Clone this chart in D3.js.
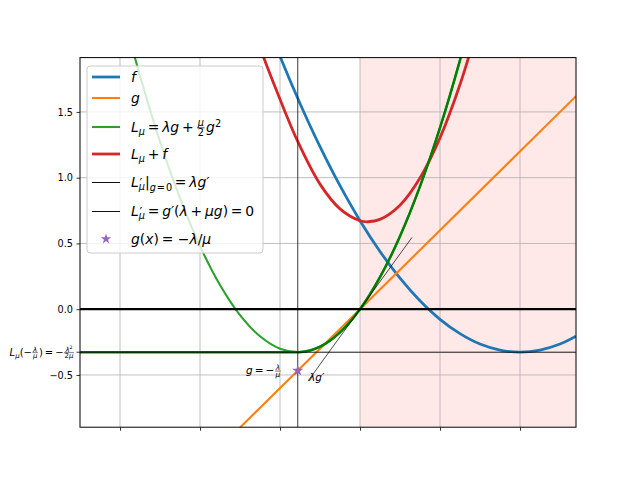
<!DOCTYPE html>
<html><head><meta charset="utf-8">
<script src="https://cdn.jsdelivr.net/npm/d3@7"></script>
<style>body{margin:0;background:#fff}svg{display:block}text{font-family:"DejaVu Sans",sans-serif;fill:#000}</style>
</head><body>
<script>
// ---- data ----
const xTicks = [-3, -2, -1, 0, 1, 2];
const yTicks = [-0.5, 0.0, 0.5, 1.0, 1.5];
const Lmin = -0.327;          // L_mu(-lambda/mu) = -lambda^2/(2 mu)
const xStar = -0.778;         // where g = -lambda/mu
const gStar = -0.467;         // g value there
const fPts = [[-1.25,2.314],[-1,1.923],[-0.75,1.564],[-0.5,1.236],[-0.25,0.939],[0,0.673],[0.25,0.439],[0.5,0.236],[0.75,0.064],[1,-0.077],[1.25,-0.186],[1.5,-0.265],[1.75,-0.311],[2,-0.327],[2.25,-0.311],[2.5,-0.265],[2.7,-0.205]];
const gPts = [[-1.6,-0.96],[2.7,1.62]];
const LPts = [[-3,2.34],[-2.75,1.774],[-2.5,1.275],[-2.25,0.844],[-2,0.48],[-1.75,0.184],[-1.5,-0.045],[-1.25,-0.206],[-1,-0.30],[-0.75,-0.326],[-0.5,-0.285],[-0.25,-0.176],[0,0],[0.25,0.244],[0.5,0.555],[0.75,0.934],[1,1.38],[1.25,1.894],[1.5,2.475]];
const LpwPts = [[-3.5,-0.327],[-0.778,-0.327],[-0.5,-0.285],[-0.25,-0.176],[0,0],[0.25,0.244],[0.5,0.555],[0.75,0.934],[1,1.38],[1.25,1.894],[1.5,2.475]];
const LfPts = [[-1.5,2.408],[-1.25,1.987],[-1,1.596],[-0.778,1.275],[-0.5,0.951],[-0.25,0.763],[0,0.673],[0.1,0.665],[0.25,0.683],[0.5,0.791],[0.75,0.998],[1,1.303],[1.25,1.708],[1.5,2.21]];
const tangentPts = [[-0.65,-0.546],[0.65,0.546]];
const shadeX = [0, 2.7];

// ---- layout ----
const W = 640, H = 480;
const L = 80, R = 576, T = 57.6, B = 427.2;
const x = d3.scaleLinear().domain([-3.5, 2.7]).range([L, R]);
const y = d3.scaleLinear().domain([-0.897, 1.913]).range([B, T]);
const C = {blue:"#1f77b4", orange:"#ff7f0e", green:"#2ca02c", red:"#d62728", dgreen:"#008000", purple:"#9467bd"};

const svg = d3.select("body").append("svg").attr("width", W).attr("height", H);
svg.append("rect").attr("width", W).attr("height", H).attr("fill", "#fff");
svg.append("clipPath").attr("id","clip").append("rect").attr("x",L).attr("y",T).attr("width",R-L).attr("height",B-T);
const plot = svg.append("g").attr("clip-path","url(#clip)");

// shaded region
plot.append("rect").attr("x", x(shadeX[0])).attr("y", T).attr("width", x(shadeX[1]) - x(shadeX[0])).attr("height", B - T)
  .attr("fill", "rgba(255,0,0,0.09)");

// grid
plot.selectAll(".gx").data(xTicks).enter().append("line")
  .attr("x1", d=>x(d)).attr("x2", d=>x(d)).attr("y1", T).attr("y2", B).attr("stroke","#b0b0b0").attr("stroke-width",0.8);
plot.selectAll(".gy").data(yTicks.concat([Lmin])).enter().append("line")
  .attr("y1", d=>y(d)).attr("y2", d=>y(d)).attr("x1", L).attr("x2", R).attr("stroke","#b0b0b0").attr("stroke-width",0.8);

const smooth = d3.line().x(d=>x(d[0])).y(d=>y(d[1])).curve(d3.curveCatmullRom.alpha(0.5));
const mono = d3.line().x(d=>x(d[0])).y(d=>y(d[1])).curve(d3.curveMonotoneX);
const straight = d3.line().x(d=>x(d[0])).y(d=>y(d[1]));
function path(pts, color, w, gen) {
  plot.append("path").attr("d", gen(pts)).attr("fill","none").attr("stroke", color).attr("stroke-width", w).attr("stroke-linecap","butt");
}
path(fPts, C.blue, 2.78, smooth);
path(gPts, C.orange, 2.08, straight);
path(LPts, C.green, 2.08, smooth);
path(LfPts, C.red, 2.78, smooth);
path(LpwPts, C.dgreen, 2.5, mono);
path(tangentPts, "#000", 0.7, straight);
// vertical and horizontal reference lines
plot.append("line").attr("x1", x(xStar)).attr("x2", x(xStar)).attr("y1", T).attr("y2", B).attr("stroke","#222").attr("stroke-width",0.9);
plot.append("line").attr("x1", L).attr("x2", R).attr("y1", y(Lmin)).attr("y2", y(Lmin)).attr("stroke","#000").attr("stroke-width",0.8);
plot.append("line").attr("x1", L).attr("x2", R).attr("y1", y(0)).attr("y2", y(0)).attr("stroke","#000").attr("stroke-width",2.2);
// star
const star = d3.symbol().type(d3.symbolStar).size(40);
const starLeg = d3.symbol().type(d3.symbolStar).size(34);
plot.append("path").attr("d", star()).attr("transform", `translate(${x(xStar)},${y(gStar)})`).attr("fill", C.purple);

// ---- rich text helper ----
function op(s){ return [{gap:0.2},{t:s},{gap:0.2}]; }
function layout(parent, x0, y0, items, size) {
  let cx = x0;
  for (let it of items) {
    if (it.gap) { cx += it.gap*size; continue; }
    if (it.frac) {
      const s = size*0.7;
      const gN = parent.append("g"); const wn = layout(gN, 0, 0, it.frac[0], s);
      const gD = parent.append("g"); const wd = layout(gD, 0, 0, it.frac[1], s);
      const w = Math.max(wn, wd) + size*0.2;
      const ax = y0 - size*0.3;
      gN.attr("transform", `translate(${cx + (w-wn)/2},${ax - size*0.1})`);
      gD.attr("transform", `translate(${cx + (w-wd)/2},${ax + s*0.8})`);
      parent.append("line").attr("x1", cx+size*0.05).attr("x2", cx+w-size*0.05).attr("y1", ax).attr("y2", ax)
        .attr("stroke","#000").attr("stroke-width", Math.max(0.5,size*0.05));
      cx += w + size*0.05; continue;
    }
    if (it.ss) {
      const wu = layout(parent, cx + size*0.05, y0 - size*0.02, it.ss[0], size*0.9);
      const wl = layout(parent, cx, y0 + size*0.25, it.ss[1], size*0.7);
      cx += Math.max(wu, wl); continue;
    }
    if (it.grp) {
      cx += layout(parent, cx, y0 + (it.dy||0)*size, it.grp, size*(it.s||1)); continue;
    }
    const fs = size*(it.s||1);
    const t = parent.append("text").attr("x", cx).attr("y", y0 + (it.dy||0)*size).attr("font-size", fs).text(it.t);
    if (it.it) t.attr("font-style","italic");
    cx += t.node().getComputedTextLength();
  }
  return cx - x0;
}
function rich(parent, x0, y0, items, size, anchor) {
  const g = parent.append("g");
  const w = layout(g, 0, 0, items, size);
  const dx = anchor === "end" ? -w : 0;
  g.attr("transform", `translate(${x0+dx},${y0})`);
  return g;
}
const I = (t)=>({t, it:1});
const sub = (items)=>({grp:items, s:0.7, dy:0.22});
const sup = (items)=>({grp:items, s:0.7, dy:-0.38});

// annotations
const annFs = 10.5;
rich(svg, x(xStar) - 16, y(gStar) + 3.6, [I("g"), ...op("="), {t:"−"}, {frac:[[I("λ")],[I("μ")]]}], annFs, "end");
rich(svg, x(tangentPts[0][0]) + 1, y(tangentPts[0][1]) - 0.5, [I("λg′")], annFs);

// ---- axes ----
const ax = svg.append("g");
ax.append("rect").attr("x", L).attr("y", T).attr("width", R-L).attr("height", B-T).attr("fill","none").attr("stroke","#000").attr("stroke-width",1);
const xAxis = d3.axisBottom(x).tickValues(xTicks).tickSize(3.5).tickFormat("");
svg.append("g").attr("transform", `translate(0,${B})`).call(xAxis).call(g=>{g.select(".domain").remove(); g.selectAll("line").attr("stroke","#000").attr("stroke-width",0.8);});
const yAxis = d3.axisLeft(y).tickValues(yTicks).tickSize(3.5).tickPadding(3.5).tickFormat(d3.format(".1f"));
svg.append("g").attr("transform", `translate(${L},0)`).call(yAxis).call(g=>{
  g.select(".domain").remove();
  g.selectAll("line").attr("stroke","#000").attr("stroke-width",0.8);
  g.selectAll("text").attr("font-family","DejaVu Sans").attr("font-size", 9.7).attr("fill","#000");
});
svg.append("line").attr("x1", L-3.5).attr("x2", L).attr("y1", y(Lmin)).attr("y2", y(Lmin)).attr("stroke","#000").attr("stroke-width",0.8);
rich(svg, L-5, y(Lmin)+3.4, [I("L"), sub([I("μ")]), {t:"(−"}, {frac:[[I("λ")],[I("μ")]]}, {t:")"}, ...op("="), {t:"−"},
  {frac:[[I("λ"), sup([{t:"2"}])],[{t:"2"}, I("μ")]]}], 10, "end");

// ---- legend ----
const leg = svg.append("g");
leg.append("rect").attr("x", 87).attr("y", 66).attr("width", 176).attr("height", 187).attr("rx", 3)
  .attr("fill","rgba(255,255,255,0.8)").attr("stroke","#cccccc").attr("stroke-width",1);
const legFs = 13.9;
const legendItems = [
  {c:C.blue, w:2.78, txt:[I("f")]},
  {c:C.orange, w:2.08, txt:[I("g")]},
  {c:C.green, w:2.08, txt:[I("L"), sub([I("μ")]), ...op("="), I("λg"), ...op("+"), {frac:[[I("μ")],[{t:"2"}]]}, I("g"), sup([{t:"2"}])]},
  {c:C.red, w:2.78, txt:[I("L"), sub([I("μ")]), ...op("+"), I("f")]},
  {c:"#111", w:1, thin:true, txt:[I("L"), {ss:[[{t:"′"}],[I("μ")]]}, {t:"|"}, {grp:[I("g"),{gap:0.1},{t:"="},{gap:0.1},{t:"0"}], s:0.7, dy:0.3}, ...op("="), I("λg′")]},
  {c:"#111", w:1, thin:true, txt:[I("L"), {ss:[[{t:"′"}],[I("μ")]]}, ...op("="), I("g′"), {t:"("}, I("λ"), ...op("+"), I("μg"), {t:")"}, ...op("="), {t:"0"}]},
  {star:true, txt:[I("g"), {t:"("}, I("x"), {t:")"}, ...op("="), {gap:0.12}, {t:"−"}, I("λ"), {t:"/"}, I("μ")]}
];
const rowY = [77, 98, 127, 154, 182, 211, 239];
legendItems.forEach((d,i)=>{
  const cy = rowY[i];
  if (d.star) {
    leg.append("path").attr("d", starLeg()).attr("transform", `translate(${106},${cy})`).attr("fill", C.purple);
  } else {
    const ly = d.thin ? cy + 0.5 : cy;
    leg.append("line").attr("x1", 92).attr("x2", 120).attr("y1", ly).attr("y2", ly).attr("stroke", d.c).attr("stroke-width", d.w);
  }
  rich(leg, 131, cy + 5, d.txt, legFs);
});
</script>
</body></html>
